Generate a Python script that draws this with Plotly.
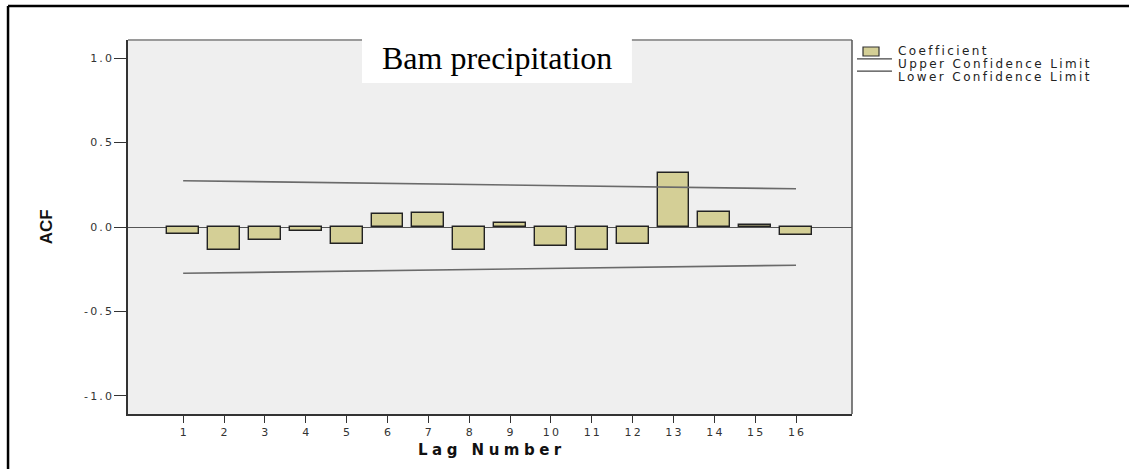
import plotly.graph_objects as go

lags = list(range(1, 17))
acf = [-0.039, -0.134, -0.079, -0.024, -0.100, 0.079, 0.084, -0.134,
       0.024, -0.112, -0.138, -0.098, 0.320, 0.087, 0.010, -0.049]
upper = [0.274, 0.271, 0.268, 0.265, 0.262, 0.259, 0.256, 0.253,
         0.250, 0.247, 0.243, 0.240, 0.237, 0.233, 0.230, 0.226]
lower = [-0.274, -0.271, -0.268, -0.265, -0.262, -0.259, -0.256, -0.253,
         -0.250, -0.247, -0.243, -0.240, -0.237, -0.233, -0.230, -0.226]
ytick_vals = [-1.0, -0.5, 0.0, 0.5, 1.0]
ytick_text = ["-1.0", "-0.5", "0.0", "0.5", "1.0"]
legend_names = ["Coefficient", "Upper Confidence Limit", "Lower Confidence Limit"]
title_text = "Bam precipitation"

TS = "\u2009"


def spaced(s, sep=TS):
    return sep.join(list(s))


BAR = "#d4cf96"
LINE = "#6a6a6a"
FONT = "DejaVu Sans"

fig = go.Figure()
fig.add_trace(go.Bar(x=lags, y=acf, width=0.78, marker=dict(color=BAR, line=dict(color="#222222", width=1.4)),
                     name=legend_names[0], showlegend=False))
fig.add_trace(go.Scatter(x=lags, y=upper, mode="lines", line=dict(color=LINE, width=1.6),
                         name=legend_names[1], showlegend=False))
fig.add_trace(go.Scatter(x=lags, y=lower, mode="lines", line=dict(color=LINE, width=1.6),
                         name=legend_names[2], showlegend=False))

fig.update_layout(
    width=1129, height=469,
    margin=dict(l=128, r=277, t=40, b=55),
    paper_bgcolor="white", plot_bgcolor="#efefef",
    font=dict(family=FONT, color="#333333"),
    bargap=0,
)
fig.update_xaxes(
    range=[-0.35, 17.37], tickmode="array", tickvals=lags,
    ticktext=[spaced(str(v)) for v in lags],
    ticks="outside", ticklen=7, tickwidth=1.3, tickcolor="#333",
    tickfont=dict(size=11, family=FONT, color="#333"),
    showgrid=False, zeroline=False,
    showline=True, linecolor="#333", linewidth=1.5,
)
fig.update_yaxes(
    range=[-1.107, 1.107], tickmode="array", tickvals=ytick_vals,
    ticktext=[spaced(t) for t in ytick_text],
    ticks="outside", ticklen=12, tickwidth=1.3, tickcolor="#333",
    tickfont=dict(size=11, family=FONT, color="#333"),
    showgrid=False, zeroline=True, zerolinecolor="#555", zerolinewidth=1.2,
    showline=True, linecolor="#333", linewidth=1.5,
)

shapes = []
# plot frame top (light) and right (dark)
shapes.append(dict(type="line", xref="paper", yref="paper", x0=0, x1=1, y0=1, y1=1,
                   line=dict(color="#9a9a9a", width=2)))
shapes.append(dict(type="line", xref="paper", yref="paper", x0=1, x1=1, y0=0, y1=1,
                   line=dict(color="#555", width=1.5)))
# outer black frame (top and left)
shapes.append(dict(type="line", xref="paper", yref="paper", x0=-0.1657, x1=1.4, y0=1.0909, y1=1.0909,
                   line=dict(color="black", width=2.5)))
shapes.append(dict(type="line", xref="paper", yref="paper", x0=-0.1657, x1=-0.1657, y0=1.0909, y1=-0.2,
                   line=dict(color="black", width=2.5)))
# title white box
shapes.append(dict(type="rect", xref="paper", yref="paper", x0=0.3232, x1=0.696, y0=0.885, y1=1.008,
                   fillcolor="white", line=dict(width=0), layer="above"))
# legend symbols
shapes.append(dict(type="rect", xref="paper", yref="paper", x0=1.0152, x1=1.0373, y0=0.9813, y1=0.9572,
                   fillcolor=BAR, line=dict(color="#333", width=1.2)))
shapes.append(dict(type="line", xref="paper", yref="paper", x0=1.0069, x1=1.0552, y0=0.9496, y1=0.9496,
                   line=dict(color="#444", width=1.3)))
shapes.append(dict(type="line", xref="paper", yref="paper", x0=1.0069, x1=1.0552, y0=0.9166, y1=0.9166,
                   line=dict(color="#444", width=1.3)))
fig.update_layout(shapes=shapes)

annotations = [
    dict(text=title_text, xref="paper", yref="paper", x=0.5097, y=0.952, xanchor="center", yanchor="middle",
         showarrow=False, font=dict(family="Liberation Serif", size=32, color="black")),
    dict(text="<b>" + spaced("Lag Number", "\u2009\u200a") + "</b>", xref="paper", yref="paper", x=0.5, y=-0.096,
         xanchor="center", yanchor="middle", showarrow=False, font=dict(family=FONT, size=15, color="#111")),
    dict(text="<b>ACF</b>", xref="paper", yref="paper", x=-0.113, y=0.5, textangle=-90,
         xanchor="center", yanchor="middle", showarrow=False,
         font=dict(family="Liberation Sans Narrow, Liberation Sans", size=17, color="#111")),
]
leg_y = [0.9706, 0.9358, 0.9011]
for name, yy in zip(legend_names, leg_y):
    annotations.append(dict(text=spaced(name), xref="paper", yref="paper", x=1.061, y=yy,
                            xanchor="left", yanchor="middle", showarrow=False,
                            font=dict(family=FONT, size=12, color="#222")))
fig.update_layout(annotations=annotations)

fig.write_html("out.html")
